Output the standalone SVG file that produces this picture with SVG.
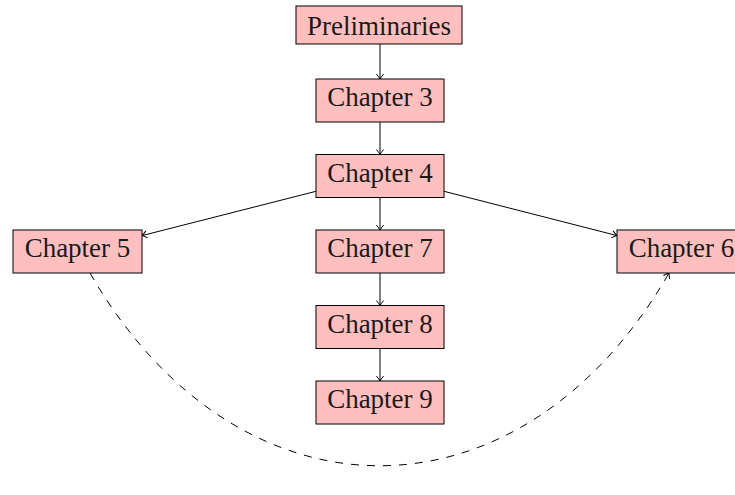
<svg xmlns="http://www.w3.org/2000/svg" width="735" height="495" viewBox="0 0 735 495">
<style>
.box{fill:#ffbfbf;stroke:#000;stroke-width:1}
.lbl{font-family:"Liberation Serif","Times New Roman",serif;font-size:27px;fill:#1a1a1a;text-anchor:middle}
.edge{fill:none;stroke:#000;stroke-width:1}
.dash{stroke-dasharray:8 8}
</style>
<defs>
<marker id="arr" viewBox="-6 -5 7 10" refX="0" refY="0" markerWidth="7" markerHeight="10" markerUnits="userSpaceOnUse" orient="auto">
<path d="M -5,-3.6 Q -1.6,-0.9 0,0 Q -1.6,0.9 -5,3.6" fill="none" stroke="#000" stroke-width="1"/>
</marker>
</defs>
<rect width="735" height="495" fill="#fff"/>
<g id="connectors">
<line class="edge" x1="380" y1="44" x2="380" y2="79" marker-end="url(#arr)"/>
<line class="edge" x1="380" y1="122" x2="380" y2="154.5" marker-end="url(#arr)"/>
<line class="edge" x1="380" y1="197.5" x2="380" y2="230" marker-end="url(#arr)"/>
<line class="edge" x1="380" y1="273" x2="380" y2="305.5" marker-end="url(#arr)"/>
<line class="edge" x1="380" y1="348.5" x2="380" y2="381" marker-end="url(#arr)"/>
<line class="edge" x1="316" y1="191.3" x2="142" y2="235.6" marker-end="url(#arr)"/>
<line class="edge" x1="444" y1="191.3" x2="617" y2="235.6" marker-end="url(#arr)"/>
<path class="edge dash" d="M 90,273 C 238,530 521,530 669,273" marker-end="url(#arr)"/>
</g>
<g id="prelim">
<rect class="box" x="296" y="6" width="166" height="38"/>
<text class="lbl" x="379" y="35">Preliminaries</text>
</g>
<g id="ch3">
<rect class="box" x="316" y="79" width="128" height="43"/>
<text class="lbl" x="380" y="106">Chapter 3</text>
</g>
<g id="ch4">
<rect class="box" x="316" y="154.5" width="128" height="43"/>
<text class="lbl" x="380" y="181.5">Chapter 4</text>
</g>
<g id="ch5">
<rect class="box" x="13" y="230" width="129" height="43"/>
<text class="lbl" x="77.5" y="257">Chapter 5</text>
</g>
<g id="ch7">
<rect class="box" x="316" y="230" width="128" height="43"/>
<text class="lbl" x="380" y="257">Chapter 7</text>
</g>
<g id="ch6">
<rect class="box" x="617" y="230" width="129" height="43"/>
<text class="lbl" x="681.5" y="257">Chapter 6</text>
</g>
<g id="ch8">
<rect class="box" x="316" y="305.5" width="128" height="43"/>
<text class="lbl" x="380" y="332.5">Chapter 8</text>
</g>
<g id="ch9">
<rect class="box" x="316" y="381" width="128" height="43"/>
<text class="lbl" x="380" y="408">Chapter 9</text>
</g>
</svg>
